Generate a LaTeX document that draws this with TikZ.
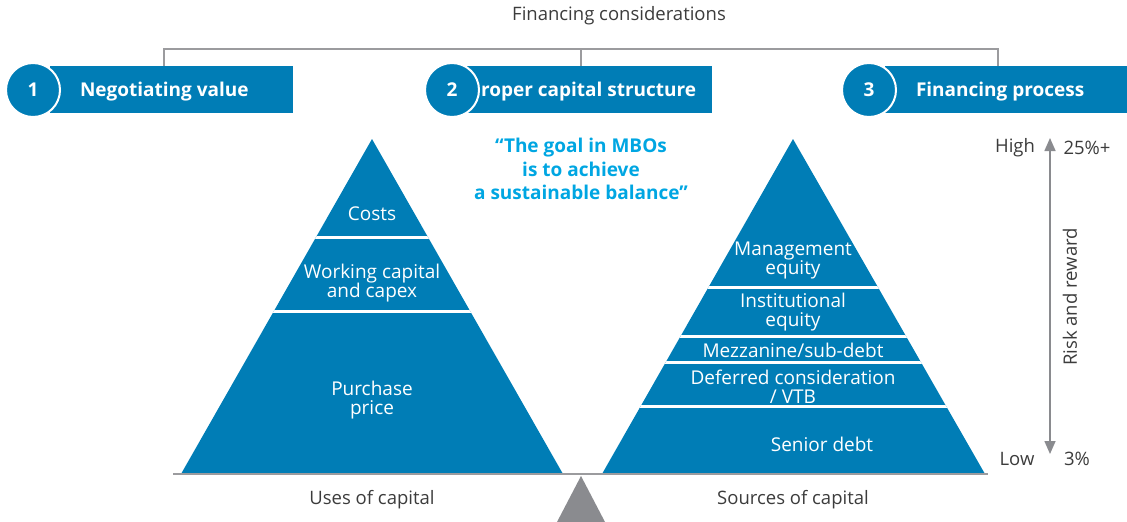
\documentclass[tikz,border=0pt]{standalone}
\usepackage{fontspec}
\setmainfont{Open Sans}
\usepackage{tikz}
\usetikzlibrary{arrows.meta,positioning,calc}

\definecolor{dblue}{RGB}{0,125,182}
\definecolor{qblue}{RGB}{0,166,226}
\definecolor{lgray}{RGB}{155,155,158}
\definecolor{fgray}{RGB}{138,139,143}
\definecolor{txtgray}{RGB}{60,60,60}

\begin{document}
\begin{tikzpicture}[
    x=1pt, y=-1pt,
    every node/.style={inner sep=0pt, outer sep=0pt},
    plain/.style={font=\fontsize{18.5}{19}\selectfont, text=txtgray, align=center},
    layer/.style={font=\fontsize{19}{19}\selectfont, text=white, align=center},
    banner/.style={rectangle, fill=dblue, minimum height=47pt, anchor=north west},
    bannertext/.style={font=\bfseries\fontsize{19}{20}\selectfont, text=white, anchor=west},
    numcirc/.style={circle, fill=dblue, draw=white, line width=2pt, minimum size=54pt, font=\bfseries\fontsize{19}{20}\selectfont, text=white},
    sep/.style={white, line width=3pt},
    bracket/.style={lgray, line width=1.3pt},
    quote/.style={font=\bfseries\fontsize{19}{23.5}\selectfont, text=qblue, align=center}
]
\useasboundingbox (0,0) rectangle (1127,522);

% header
\node[plain] (title) at (619,16) {Financing considerations};

\node[banner, minimum width=243pt] (box1) at (50,66) {};
\node[banner, minimum width=245pt] (box2) at (467,66) {};
\node[banner, minimum width=242pt] (box3) at (885,66) {};

\draw[bracket] ([xshift=114pt]box1.north west) -- ++(0,-17) -| ([xshift=113pt]box3.north west);
\draw[bracket] ([xshift=114pt]box2.north west) -- ++(0,-17);

\node[numcirc] (num1) at (33,90) {1};
\node[numcirc] (num2) at (452,90) {2};
\node[numcirc] (num3) at (869,90) {3};

\node[bannertext] (lab1) at (80,92) {Negotiating value};
\node[bannertext] (lab2) at (481,92) {roper capital structure};
\node[bannertext] (lab3) at (916,92) {Financing process};

% uses of capital
\coordinate (lapex) at (372,139);
\coordinate (lleft) at (181,474);
\coordinate (lright) at (563,474);
\fill[dblue] (lapex) -- (lleft) -- (lright) -- cycle;
\begin{scope}
    \clip (lapex) -- (lleft) -- (lright) -- cycle;
    \draw[sep] (150,237) -- (600,237);
    \draw[sep] (150,311.5) -- (600,311.5);
\end{scope}
\node[layer] (costs) at (372,214) {Costs};
\node[layer] (wcap) at (372,283) {Working capital\\and capex};
\node[layer] (price) at (372,400) {Purchase\\price};

% sources of capital
\coordinate (rapex) at (793,139);
\coordinate (rleft) at (602,474);
\coordinate (rright) at (985,474);
\fill[dblue] (rapex) -- (rleft) -- (rright) -- cycle;
\begin{scope}
    \clip (rapex) -- (rleft) -- (rright) -- cycle;
    \foreach \y in {287,336,362,406}
        \draw[sep] (580,\y) -- (1000,\y);
\end{scope}
\node[layer] (mgmt) at (793,260) {Management\\equity};
\node[layer] (inst) at (793,312.5) {Institutional\\equity};
\node[layer] (mezz) at (793,350) {Mezzanine/sub-debt};
\node[layer] (defer) at (793,387) {Deferred consideration\\/ VTB};
\node[layer] (senior) at (822,444) {Senior debt};

% balance
\draw[lgray, line width=1.5pt] (173,474) -- (988,474);
\fill[fgray] (581,476) -- (557,522) -- (605,522) -- cycle;

\node[plain] (uses) at (372,500) {Uses of capital};
\node[plain] (sources) at (793,500) {Sources of capital};

\node[quote] (goal) at (581,169) {“The goal in MBOs\\is to achieve\\a sustainable balance”};

% risk and reward
\coordinate (rtop) at (1050,138);
\coordinate (rbot) at (1050,454);
\draw[fgray, line width=1.6pt, {Triangle[width=11pt,length=13pt]}-{Triangle[width=11pt,length=13pt]}] (rtop) -- (rbot);
\node[plain] (high) at (1015,148) {High};
\node[plain] (hipct) at (1087,148) {25\%+};
\node[plain] (low) at (1017,459) {Low};
\node[plain] (lopct) at (1077,459) {3\%};
\node[plain, rotate=90] (risk) at (1070,297) {Risk and reward};

\end{tikzpicture}
\end{document}
